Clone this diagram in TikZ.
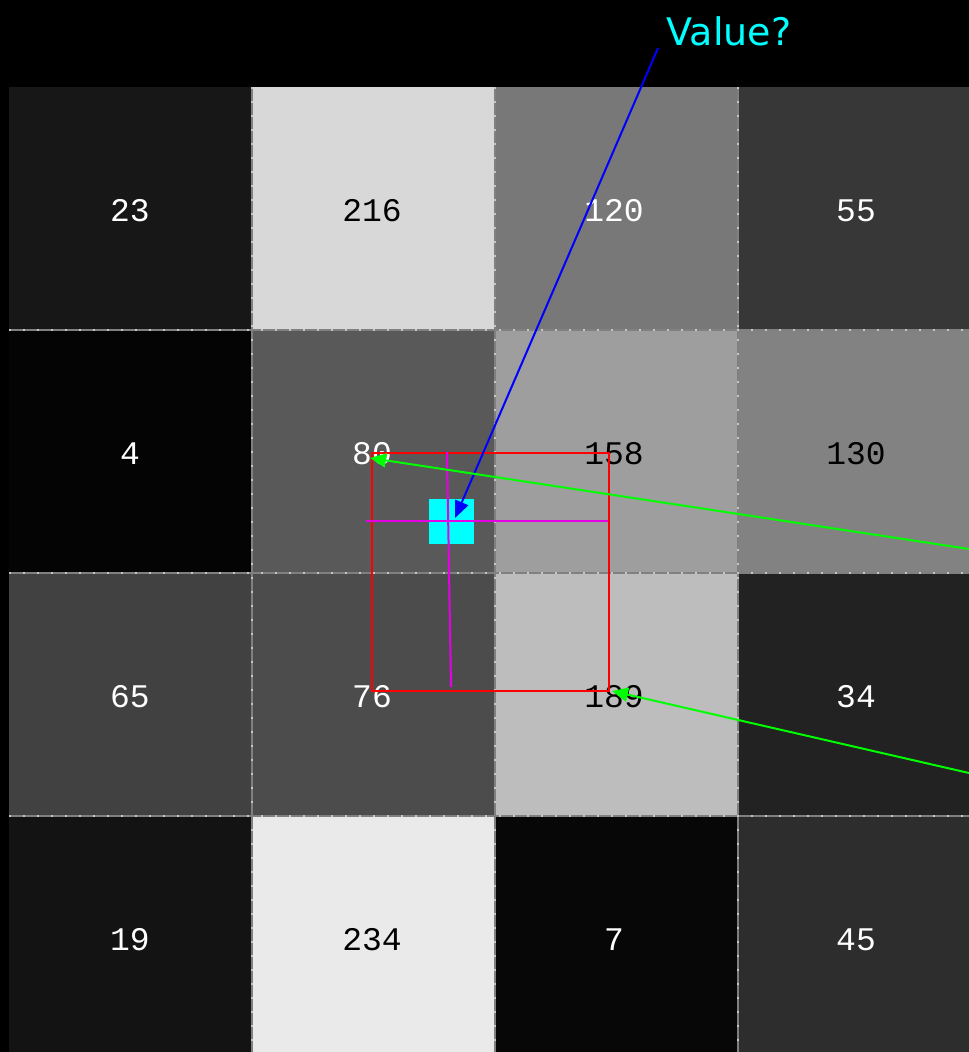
\documentclass[tikz,border=0pt]{standalone}
\usepackage{fontspec}
\newfontfamily\cellfont{Liberation Mono}
\newfontfamily\labelfont{DejaVu Sans}
\usetikzlibrary{arrows.meta}
\definecolor{gridgray}{RGB}{128,128,128}
\definecolor{cyanq}{RGB}{0,255,255}
\definecolor{bluearrow}{RGB}{0,0,255}
\definecolor{greenarrow}{RGB}{0,255,0}
\definecolor{magline}{RGB}{230,0,230}
\tikzset{
  cellbox/.style={minimum width=243pt, minimum height=243pt, inner sep=0pt, draw=none},
  celltext/.style={inner sep=0pt, font=\cellfont\fontsize{33}{33}\selectfont},
  gridline/.style={draw=gridgray, line width=2pt},
  gridline dots/.style={draw=gray!45, line width=1.2pt, dash pattern=on 2pt off 12pt},
  winbox/.style={draw=red, line width=2pt},
  crossline/.style={draw=magline, line width=2pt},
  qarrow/.style={draw=bluearrow, line width=2pt, -{Triangle[length=17pt,width=14pt]}},
  garrow/.style={draw=greenarrow, line width=2pt, -{Triangle[length=16pt,width=14pt]}},
}
\begin{document}
\begin{tikzpicture}[x=1pt,y=-1pt]
\fill[black] (0,0) rectangle (969,1052);
\useasboundingbox (0,0) rectangle (969,1052);
\begin{scope}
\clip (0,0) rectangle (969,1052);
\foreach \v/\g [count=\i from 0] in {23/23,216/216,120/120,55/55,4/4,80/89,158/158,130/130,65/65,76/76,189/189,34/34,19/19,234/234,7/7,45/45} {
  \pgfmathtruncatemacro\row{int(\i/4)}
  \pgfmathtruncatemacro\col{mod(\i,4)}
  \definecolor{cc}{RGB}{\g,\g,\g}
  \ifnum\v<125 \def\tc{white}\else\def\tc{black}\fi
  \node[cellbox, fill=cc] (c\v) at ({9+121.5+243*\col},{87+121.5+243*\row}) {};
  \node[celltext, text=\tc] (n\v) at ({130+242*\col},{211+243*\row}) {\v};
}
\foreach \x in {252,495,738} {
  \draw[gridline] (\x,87) -- (\x,1052);
  \draw[gridline dots] (\x,87) -- (\x,1052);
}
\foreach \y in {330,573,816} {
  \draw[gridline] (9,\y) -- (969,\y);
  \draw[gridline dots] (9,\y) -- (969,\y);
}
\end{scope}
% interpolation window
\node[winbox, minimum width=237pt, minimum height=238pt, inner sep=0pt, anchor=north west] (win) at (371,452) {};
\node[fill=cyanq, minimum size=45pt, inner sep=0pt] (q) at (451.5,521.5) {};
\coordinate (h1) at (366,521);
\coordinate (h2) at (608,521);
\coordinate (v1) at (447,452);
\coordinate (v2) at (451,687);
\draw[crossline] (h1) -- (h2);
\draw[crossline] (v1) -- (v2);
% label
\node[text=cyanq, font=\labelfont\fontsize{38}{38}\selectfont, inner sep=0pt] (val) at (729,31) {Value?};
\coordinate (vs) at (658,48);
\coordinate (qt) at (455,518);
\draw[qarrow] (vs) -- (qt);
% green arrows
\coordinate (g1s) at (969,549);
\coordinate (g1t) at (370,458);
\coordinate (g2s) at (969,773);
\coordinate (g2t) at (612,691);
\draw[garrow] (g1s) -- (g1t);
\draw[garrow] (g2s) -- (g2t);
\end{tikzpicture}
\end{document}
